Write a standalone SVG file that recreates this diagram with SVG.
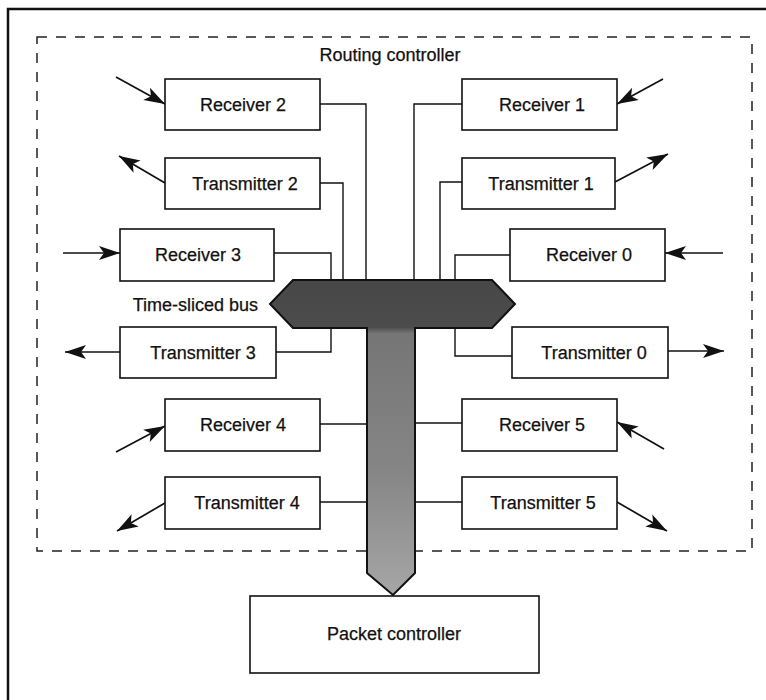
<svg xmlns="http://www.w3.org/2000/svg" width="766" height="700" viewBox="0 0 766 700">
<style>
  .box { fill: #fff; stroke: #111; stroke-width: 1.6; }
  .lbl { font-family: "Liberation Sans", Arial, sans-serif; font-size: 18px; fill: #111; stroke: #111; stroke-width: 0.25; text-anchor: middle; }
  .wire { fill: none; stroke: #111; stroke-width: 1.4; }
  .arr { fill: none; stroke: #111; stroke-width: 1.7; marker-end: url(#ah); }
  .frame { fill: none; stroke: #111; stroke-width: 2.5; }
  .dash { fill: none; stroke: #222; stroke-width: 1.5; stroke-dasharray: 10 9; }
</style>
<defs>
  <marker id="ah" markerUnits="userSpaceOnUse" markerWidth="26" markerHeight="18" viewBox="-23 -9 24 18" refX="0" refY="0" orient="auto">
    <path d="M0,0 L-21,-7 L-16,0 L-21,7 Z" fill="#111"/>
  </marker>
  <linearGradient id="busg" gradientUnits="userSpaceOnUse" x1="0" y1="280" x2="0" y2="595">
    <stop offset="0" stop-color="#474747"/>
    <stop offset="0.15" stop-color="#4c4c4c"/>
    <stop offset="0.17" stop-color="#767676"/>
    <stop offset="0.6" stop-color="#858585"/>
    <stop offset="1" stop-color="#a6a6a6"/>
  </linearGradient>
</defs>
<rect width="766" height="700" fill="#fff"/>
<g id="frame">
  <path class="frame" d="M8,700 V9 H766"/>
</g>
<g id="routing-controller">
  <rect class="dash" x="37" y="37" width="715" height="514"/>
  <text class="lbl" x="390" y="61">Routing controller</text>
</g>
<g id="connectors">
  <path class="wire" d="M320,104 H366 V280"/>
  <path class="wire" d="M320,183 H343 V280"/>
  <path class="wire" d="M274,253 H331 V280"/>
  <path class="wire" d="M276,352 H331 V328"/>
  <path class="wire" d="M320,424 H367"/>
  <path class="wire" d="M320,502 H367"/>
  <path class="wire" d="M462,104 H414 V280"/>
  <path class="wire" d="M462,182 H440 V280"/>
  <path class="wire" d="M510,255 H455 V280"/>
  <path class="wire" d="M512,356 H455 V328"/>
  <path class="wire" d="M462,423 H415"/>
  <path class="wire" d="M462,502 H415"/>
  <path class="arr" d="M116,77 L165,104"/>
  <path class="arr" d="M165,183 L119,156"/>
  <path class="arr" d="M63,253 L120,253"/>
  <path class="arr" d="M120,352 L65,352"/>
  <path class="arr" d="M116,452 L165,426"/>
  <path class="arr" d="M165,503 L117,531"/>
  <path class="arr" d="M663,79 L617,104"/>
  <path class="arr" d="M615,182 L668,154"/>
  <path class="arr" d="M723,253 L665,253"/>
  <path class="arr" d="M668,351 L724,351"/>
  <path class="arr" d="M664,449 L617,422"/>
  <path class="arr" d="M617,502 L667,531"/>
</g>
<g id="bus">
  <path d="M270,304 L293,280 L492,280 L515,304 L492,328 L415,328 L415,573 L393,595 L367,573 L367,328 L293,328 Z" fill="url(#busg)" stroke="#111" stroke-width="2"/>
  <text class="lbl" x="258" y="311" style="text-anchor:end">Time-sliced bus</text>
</g>
<g id="receiver2"><rect class="box" x="165" y="79" width="155" height="51"/><text class="lbl" x="243" y="111">Receiver 2</text></g>
<g id="transmitter2"><rect class="box" x="165" y="158" width="155" height="51"/><text class="lbl" x="245" y="190">Transmitter 2</text></g>
<g id="receiver3"><rect class="box" x="120" y="229" width="154" height="52"/><text class="lbl" x="198" y="261">Receiver 3</text></g>
<g id="transmitter3"><rect class="box" x="120" y="327" width="156" height="51"/><text class="lbl" x="203" y="359">Transmitter 3</text></g>
<g id="receiver4"><rect class="box" x="165" y="399" width="155" height="52"/><text class="lbl" x="243" y="431">Receiver 4</text></g>
<g id="transmitter4"><rect class="box" x="165" y="477" width="155" height="52"/><text class="lbl" x="247" y="509">Transmitter 4</text></g>
<g id="receiver1"><rect class="box" x="462" y="79" width="155" height="51"/><text class="lbl" x="542" y="111">Receiver 1</text></g>
<g id="transmitter1"><rect class="box" x="462" y="158" width="153" height="51"/><text class="lbl" x="541" y="190">Transmitter 1</text></g>
<g id="receiver0"><rect class="box" x="510" y="229" width="155" height="52"/><text class="lbl" x="589" y="261">Receiver 0</text></g>
<g id="transmitter0"><rect class="box" x="512" y="327" width="156" height="51"/><text class="lbl" x="594" y="359">Transmitter 0</text></g>
<g id="receiver5"><rect class="box" x="462" y="399" width="155" height="52"/><text class="lbl" x="542" y="431">Receiver 5</text></g>
<g id="transmitter5"><rect class="box" x="462" y="477" width="155" height="52"/><text class="lbl" x="543" y="509">Transmitter 5</text></g>
<g id="packet-controller"><rect class="box" x="250" y="596" width="289" height="77"/><text class="lbl" x="394" y="640">Packet controller</text></g>
</svg>
